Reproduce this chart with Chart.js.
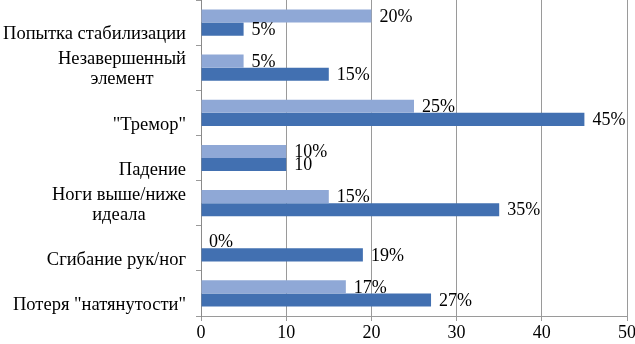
<!DOCTYPE html>
<html>
<head>
<meta charset="utf-8">
<script src="https://cdn.jsdelivr.net/npm/chart.js@4"></script>
<style>
  html, body { margin: 0; padding: 0; background: #fff; }
  #wrap { width: 635px; height: 344px; position: relative; }
</style>
</head>
<body>
<div id="wrap"><canvas id="chart"></canvas></div>
<script>
const categories = [
    'Попытка стабилизации',
    ['Незавершенный', 'элемент'],
    '"Тремор"',
    'Падение',
    ['Ноги выше/ниже', 'идеала'],
    'Сгибание рук/ног',
    'Потеря "натянутости"'
];
const lightValues = [20, 5, 25, 10, 15, 0, 17];
const darkValues = [5, 15, 45, 10, 35, 19, 27];
const lightLabels = ['20%', '5%', '25%', '10%', '15%', '0%', '17%'];
const darkLabels = ['5%', '15%', '45%', '10', '35%', '19%', '27%'];
const xTicks = [0, 10, 20, 30, 40, 50];

const FONT = '"Liberation Serif", "Times New Roman", serif';

// value labels next to the bar ends
const valueLabels = {
    id: 'valueLabels',
    afterDatasetsDraw(chart) {
        const ctx = chart.ctx;
        const texts = [lightLabels, darkLabels];
        ctx.save();
        ctx.font = '18px ' + FONT;
        ctx.fillStyle = '#000';
        ctx.textBaseline = 'middle';
        ctx.textAlign = 'left';
        chart.data.datasets.forEach(function(ds, i) {
            chart.getDatasetMeta(i).data.forEach(function(bar, j) {
                ctx.fillText(texts[i][j], bar.x + 8, bar.y + 1);
            });
        });
        ctx.restore();
    }
};

// category names: block right-aligned, lines centred inside the block,
// single lines sit a bit below the band centre like in the original
const categoryLabels = {
    id: 'categoryLabels',
    afterDraw(chart) {
        const ctx = chart.ctx;
        const yScale = chart.scales.y;
        const right = chart.chartArea.left - 15;
        const lineH = 20;
        ctx.save();
        ctx.font = '18.5px ' + FONT;
        ctx.fillStyle = '#000';
        ctx.textBaseline = 'middle';
        ctx.textAlign = 'center';
        categories.forEach(function(label, i) {
            const lines = Array.isArray(label) ? label : [label];
            const y = yScale.getPixelForTick(i);
            const w = Math.max.apply(null, lines.map(function(t) { return ctx.measureText(t).width; }));
            const cx = right - w / 2;
            if (lines.length === 1) {
                ctx.fillText(lines[0], cx, y + 12);
            } else {
                const top = y + 1.5 - (lines.length - 1) * lineH / 2;
                lines.forEach(function(t, k) { ctx.fillText(t, cx, top + k * lineH); });
            }
        });
        ctx.restore();
    }
};

new Chart(document.getElementById('chart'), {
    type: 'bar',
    data: {
        labels: categories,
        datasets: [
            {
                data: lightValues,
                backgroundColor: '#8fa8d6',
                categoryPercentage: 0.58,
                barPercentage: 1
            },
            {
                data: darkValues,
                backgroundColor: '#4270b1',
                categoryPercentage: 0.58,
                barPercentage: 1
            }
        ]
    },
    options: {
        indexAxis: 'y',
        responsive: true,
        maintainAspectRatio: false,
        animation: false,
        layout: { padding: { top: 0, right: 8, left: 0, bottom: 0 } },
        plugins: {
            legend: { display: false },
            tooltip: { enabled: false }
        },
        scales: {
            x: {
                min: 0,
                max: 50,
                afterBuildTicks: function(scale) {
                    scale.ticks = xTicks.map(function(v) { return { value: v }; });
                },
                afterFit: function(scale) {
                    scale.height = 28;
                    scale.paddingLeft = 0;
                    scale.paddingRight = 0;
                },
                grid: {
                    color: '#9a9a9a',
                    tickLength: 5,
                    lineWidth: 1
                },
                border: { color: '#9a9a9a' },
                ticks: {
                    color: '#000',
                    padding: 1,
                    font: { family: FONT, size: 18 }
                }
            },
            y: {
                afterFit: function(scale) {
                    scale.width = 201;
                    scale.paddingTop = 0;
                    scale.paddingBottom = 0;
                },
                grid: {
                    offset: true,
                    drawOnChartArea: false,
                    color: '#9a9a9a',
                    tickLength: 5
                },
                border: { color: '#8a8a8a' },
                ticks: {
                    display: false
                }
            }
        }
    },
    plugins: [valueLabels, categoryLabels]
});
</script>
</body>
</html>
